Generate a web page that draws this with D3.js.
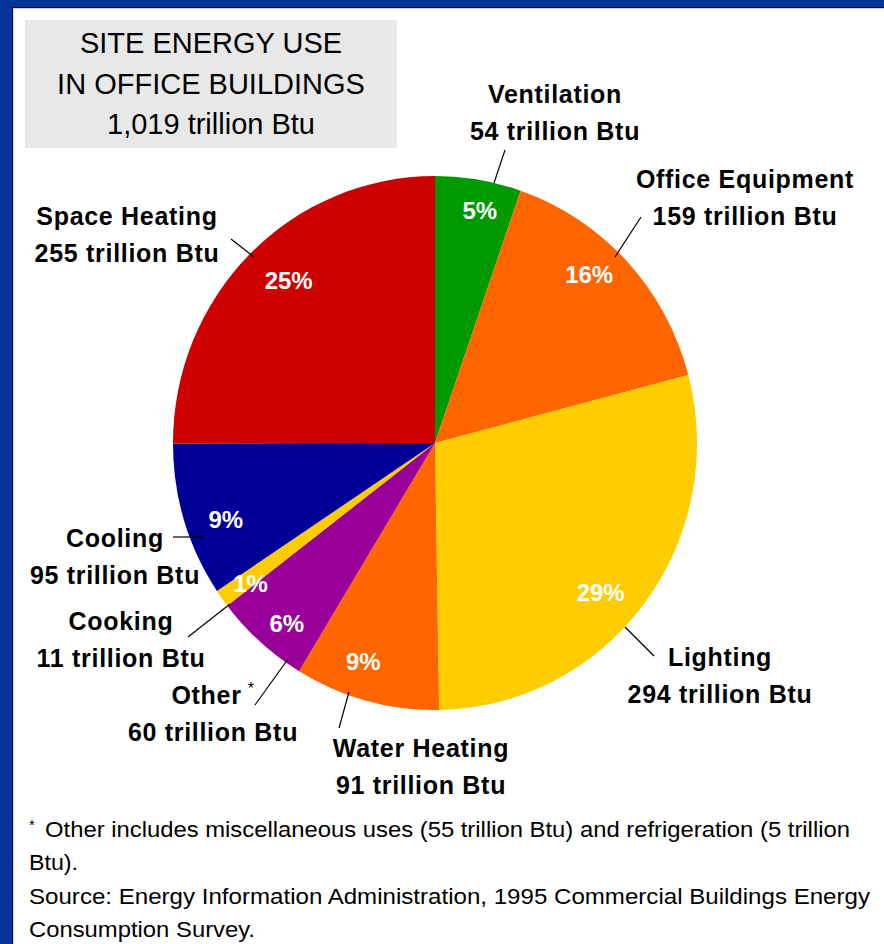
<!DOCTYPE html>
<html>
<head>
<meta charset="utf-8">
<script src="https://cdn.jsdelivr.net/npm/d3@7"></script>
<style>
  body { margin: 0; background: #06339c; }
  svg { display: block; }
</style>
</head>
<body>
<svg id="chart" width="884" height="944"></svg>
<script>
// --- data ---
const categories = ["Ventilation", "Office Equipment", "Lighting", "Water Heating",
                    "Other", "Cooking", "Cooling", "Space Heating"];
const values = [54, 159, 294, 91, 60, 11, 95, 255];   // trillion Btu
const colors = ["#009900", "#ff6600", "#ffcc00", "#ff6600",
                "#990099", "#ffcc00", "#000099", "#cc0000"];
const titleLines = ["SITE ENERGY USE", "IN OFFICE BUILDINGS", "1,019 trillion Btu"];
const footLines = [
  "Other includes miscellaneous uses (55 trillion Btu) and refrigeration (5 trillion",
  "Btu).",
  "Source:  Energy Information Administration, 1995 Commercial Buildings Energy",
  "Consumption Survey."
];

// --- layout (annotation placement only) ---
const center = { x: 435, y: 443 };
const radius = 262, yStretch = 1.019;
const pctRadius = 228;
const pctNudge = [[7,-3],[-13,-10],[-16,10],[-12,-5],[4,8],[1,6],[9,10],[15,2]];
// callouts: text center x, first baseline y, leader line
const callouts = [
  { x: 555, y: 103, line: [505,150,494,183] },
  { x: 745, y: 188, line: [641,217,615,257] },
  { x: 720, y: 666, line: [654,656,625,627] },
  { x: 421, y: 757, line: [339,728,349,692] },
  { x: 213, y: 704, line: [255,705,288,659] },
  { x: 121, y: 630, line: [188,637,230,604] },
  { x: 115, y: 547, line: [173,537,203,537] },
  { x: 127, y: 225, line: [231,239,254,257] }
];

const svg = d3.select("#chart");
const total = d3.sum(values);

// panel
svg.append("rect").attr("x", 12.5).attr("y", 7.5).attr("width", 880).attr("height", 944)
   .attr("fill", "#fff").attr("stroke", "#111").attr("stroke-width", 1);
svg.append("rect").attr("x", 13.5).attr("y", 8.5).attr("width", 880).attr("height", 944)
   .attr("fill", "none").attr("stroke", "#cfcfcf").attr("stroke-width", 1);

// title box
svg.append("rect").attr("x", 25).attr("y", 20).attr("width", 372).attr("height", 128)
   .attr("fill", "#e8e8e8");
svg.selectAll(".title").data(titleLines).join("text")
   .attr("x", 211).attr("y", (d, i) => 53 + i * 40.5)
   .attr("text-anchor", "middle")
   .style("font", "29px 'Liberation Sans', Arial, sans-serif")
   .attr("fill", "#000")
   .text(d => d);

// pie
const pie = d3.pie().sort(null).value(d => d).startAngle(0).endAngle(2 * Math.PI);
const arcs = pie(values);
const arc = d3.arc().innerRadius(0).outerRadius(radius);

const g = svg.append("g")
  .attr("transform", `translate(${center.x},${center.y}) scale(1,${yStretch})`);
g.selectAll("path").data(arcs).join("path")
  .attr("d", arc)
  .attr("fill", (d, i) => colors[i]);

// percent labels
const labelArc = d3.arc().innerRadius(pctRadius).outerRadius(pctRadius);
svg.selectAll(".pct").data(arcs).join("text")
  .attr("x", (d, i) => center.x + labelArc.centroid(d)[0] + pctNudge[i][0])
  .attr("y", (d, i) => center.y + labelArc.centroid(d)[1] * yStretch + pctNudge[i][1] + 8)
  .attr("text-anchor", "middle")
  .attr("fill", "#fff")
  .style("font", "bold 24px 'Liberation Sans', Arial, sans-serif")
  .text(d => Math.round(d.value / total * 100) + "%");

// callouts
const co = svg.append("g");
co.selectAll("line").data(callouts).join("line")
  .attr("x1", d => d.line[0]).attr("y1", d => d.line[1])
  .attr("x2", d => d.line[2]).attr("y2", d => d.line[3])
  .attr("stroke", "#000").attr("stroke-width", 1.2);

const labels = co.selectAll(".lbl").data(callouts).join("text")
  .attr("text-anchor", "middle")
  .style("font", "bold 25px 'Liberation Sans', Arial, sans-serif")
  .style("letter-spacing", "0.7px")
  .attr("fill", "#000");
labels.append("tspan")
  .attr("x", d => d.x).attr("y", d => d.y)
  .text((d, i) => categories[i]);
labels.filter((d, i) => categories[i] === "Other").append("tspan")
  .attr("dx", 6).attr("dy", -10)
  .style("font-size", "16px").style("font-weight", "normal")
  .text("*");
labels.append("tspan")
  .attr("x", d => d.x).attr("y", d => d.y + 37)
  .text((d, i) => values[i] + " trillion Btu");

// footnote
const foot = svg.append("g")
  .style("font", "22px 'Liberation Sans', Arial, sans-serif").attr("fill", "#000");
foot.append("text").attr("x", 29).attr("y", 830).style("font-size", "15px").text("*");
const footX = [45, 29, 29, 29];
const footW = [805, 49, 841, 226];
foot.selectAll(".fn").data(footLines).join("text")
  .attr("x", (d, i) => footX[i])
  .attr("y", (d, i) => 837 + i * 33.3)
  .attr("textLength", (d, i) => footW[i])
  .attr("lengthAdjust", "spacingAndGlyphs")
  .text(d => d);
</script>
</body>
</html>
